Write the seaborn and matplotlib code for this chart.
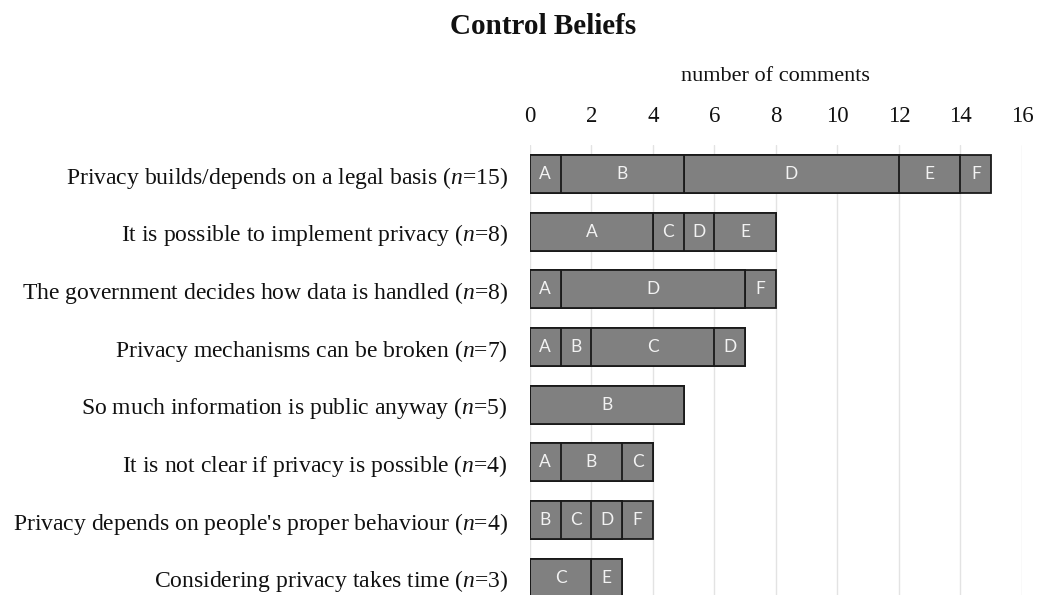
import numpy as np
import pandas as pd
import matplotlib
matplotlib.use("Agg")
import matplotlib.pyplot as plt
import seaborn as sns

# categories (top to bottom)
beliefs = [
    "Privacy builds/depends on a legal basis ($n$=15)",
    "It is possible to implement privacy ($n$=8)",
    "The government decides how data is handled ($n$=8)",
    "Privacy mechanisms can be broken ($n$=7)",
    "So much information is public anyway ($n$=5)",
    "It is not clear if privacy is possible ($n$=4)",
    "Privacy depends on people's proper behaviour ($n$=4)",
    "Considering privacy takes time ($n$=3)",
]

# comments per group
groups = ["A", "B", "C", "D", "E", "F"]
A = [1, 4, 1, 1, 0, 1, 0, 0]
B = [4, 0, 0, 1, 5, 2, 1, 0]
C = [0, 1, 0, 4, 0, 1, 1, 2]
D = [7, 1, 6, 1, 0, 0, 1, 0]
E = [2, 2, 0, 0, 0, 0, 0, 1]
F = [1, 0, 1, 0, 0, 0, 1, 0]

sns.set_style("white")
plt.rcParams["font.family"] = ["Liberation Serif", "DejaVu Serif"]
plt.rcParams["mathtext.fontset"] = "custom"
plt.rcParams["mathtext.it"] = "Liberation Serif:italic"
plt.rcParams["mathtext.rm"] = "Liberation Serif"
plt.rcParams["text.color"] = "#111111"
plt.rcParams["xtick.color"] = "#111111"
plt.rcParams["ytick.color"] = "#111111"
plt.rcParams["axes.labelcolor"] = "#111111"

df = pd.DataFrame({"belief": beliefs, "A": A, "B": B, "C": C, "D": D, "E": E, "F": F})
cum = df[groups].cumsum(axis=1)

fig = plt.figure(figsize=(10.37, 5.95), dpi=100)
ax = fig.add_axes([0.511, 0.0, 0.4745, 0.756])

# draw cumulative bars from the largest down so each segment shows
for g in reversed(groups):
    sns.barplot(x=cum[g], y=df["belief"], orient="h", color="#808080",
                edgecolor="#1a1a1a", linewidth=1.3, width=0.66, saturation=1,
                ax=ax)

# segment letters
for i in range(len(df)):
    left = 0
    for g in groups:
        v = df.loc[i, g]
        if v > 0:
            ax.text(left + v / 2, i, g, ha="center", va="center",
                    color="#f2f2f2", fontsize=12.5, family="Lato")
        left += v

ax.set_xlim(0, 16)
ax.set_ylim(7.3, -0.5)
ax.set_xticks(np.arange(0, 17, 2))
ax.xaxis.tick_top()
ax.xaxis.set_label_position("top")
ax.set_xlabel("number of comments", fontsize=16, labelpad=18)
ax.set_ylabel("")
ax.tick_params(axis="x", labelsize=16.5, length=0, pad=13)
ax.tick_params(axis="y", labelsize=17, length=0, pad=16)
ax.grid(axis="x", color="#e3e3e3", linewidth=1)
ax.set_axisbelow(True)
for s in ax.spines.values():
    s.set_visible(False)

fig.text(0.524, 0.955, "Control Beliefs", ha="center", va="center",
         fontsize=21, fontweight="bold")

fig.savefig("out.png", dpi=100)
